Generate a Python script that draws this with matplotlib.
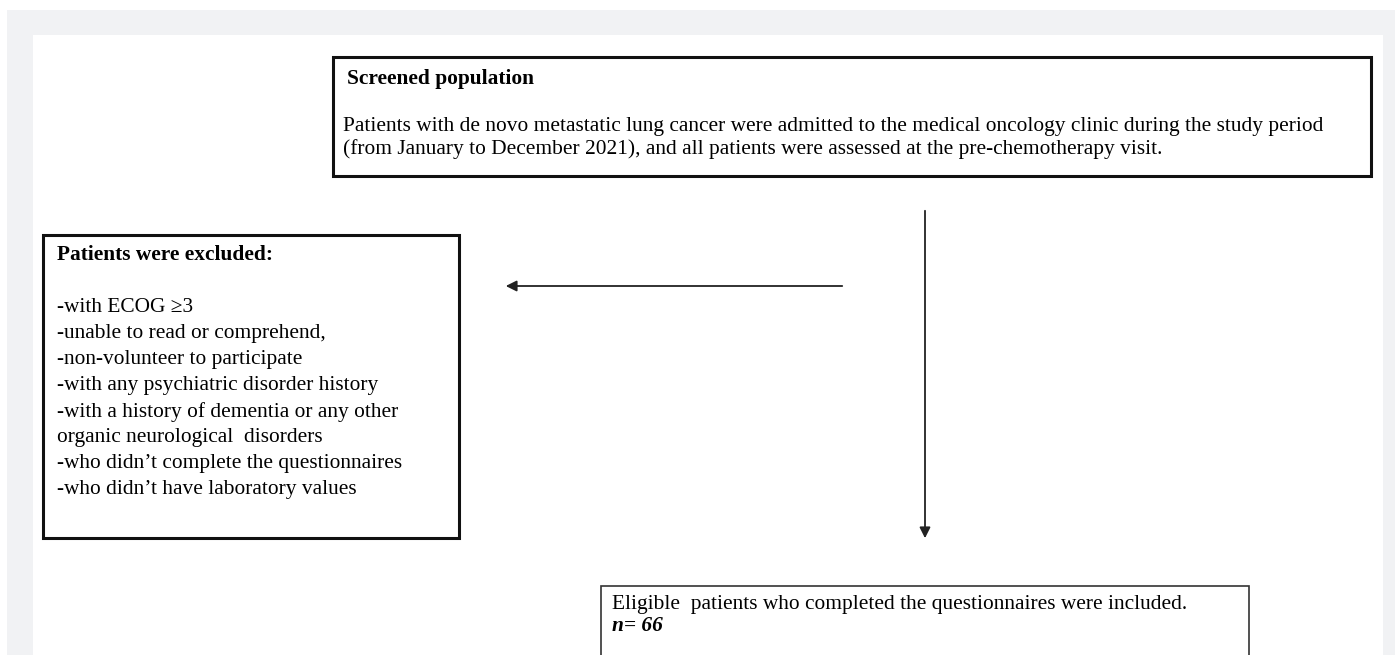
import matplotlib.pyplot as plt
from matplotlib.patches import Rectangle

plt.rcParams['font.family'] = ['Liberation Serif', 'DejaVu Serif']

# box texts
screened_title = 'Screened population'
screened_lines = [
    'Patients with de novo metastatic lung cancer were admitted to the medical oncology clinic during the study period',
    '(from January to December 2021), and all patients were assessed at the pre-chemotherapy visit.',
]
excluded_title = 'Patients were excluded:'
excluded_lines = [
    '-with ECOG \u22653',
    '-unable to read or comprehend,',
    '-non-volunteer to participate',
    '-with any psychiatric disorder history',
    '-with a history of dementia or any other',
    'organic neurological  disorders',
    "-who didn\u2019t complete the questionnaires",
    "-who didn\u2019t have laboratory values",
]
included_line = 'Eligible  patients who completed the questionnaires were included.'
included_n = 'n= 66'

W, H = 1395, 655
fig = plt.figure(figsize=(W / 100, H / 100), dpi=100)
ax = fig.add_axes([0, 0, 1, 1])
ax.set_xlim(0, W)
ax.set_ylim(H, 0)
ax.axis('off')

# page background
ax.add_patch(Rectangle((7, 10), 1388, 650, facecolor='#f1f2f4', edgecolor='none'))
ax.add_patch(Rectangle((33, 35), 1350, 625, facecolor='white', edgecolor='none'))

fs = 15.4

# top box
ax.add_patch(Rectangle((333, 57), 1038, 119, facecolor='white', edgecolor='#111111', lw=2.2))
ax.text(347, 79, screened_title, fontsize=fs, fontweight='bold', va='center')
for i, line in enumerate(screened_lines):
    ax.text(343, 127 + i * 22, line, fontsize=fs, va='center')

# excluded box
ax.add_patch(Rectangle((43, 235), 416, 303, facecolor='white', edgecolor='#111111', lw=2.2))
ax.text(57, 255, excluded_title, fontsize=fs, fontweight='bold', va='center')
for i, line in enumerate(excluded_lines):
    ax.text(57, 308 + i * 25.9, line, fontsize=fs, va='center')

# included box
ax.add_patch(Rectangle((601, 586), 648, 90, facecolor='white', edgecolor='#333333', lw=1.2))
ax.text(612, 604, included_line, fontsize=fs, va='center')
ax.text(612, 626, included_n, fontsize=fs, fontweight='bold', fontstyle='italic', va='center')

# arrows
ax.annotate('', xy=(503, 286), xytext=(845, 286),
            arrowprops=dict(arrowstyle='-|>', color='#222222', lw=1.3, mutation_scale=16))
ax.annotate('', xy=(925, 541), xytext=(925, 208),
            arrowprops=dict(arrowstyle='-|>', color='#222222', lw=1.3, mutation_scale=16))

fig.savefig('out.png', dpi=100)
